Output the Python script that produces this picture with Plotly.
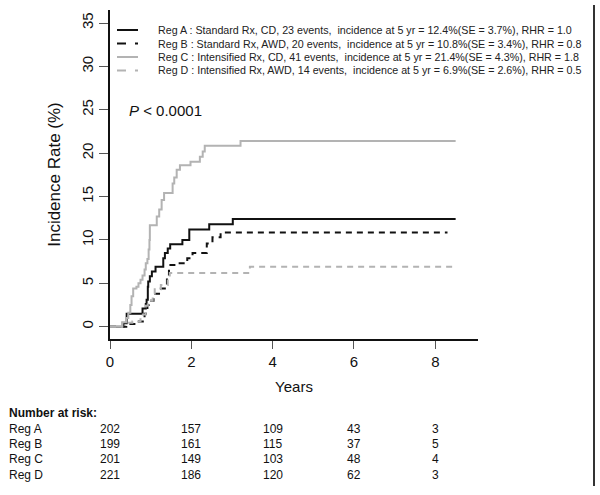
import plotly.graph_objects as go

# ---- data ----
reg_a_t = [0, 0.33, 0.41, 0.80, 0.88, 0.90, 0.93, 0.94, 0.98, 1.03, 1.12, 1.31, 1.35, 1.42, 1.48, 1.78, 1.95, 2.44, 3.02, 8.5]
reg_a_v = [0, 0.4, 1.5, 2.1, 2.6, 3.1, 4.6, 5.2, 5.8, 6.35, 6.9, 7.9, 8.5, 9.0, 9.5, 10.0, 11.2, 11.8, 12.4, 12.4]

reg_b_t = [0, 0.40, 0.60, 0.85, 0.92, 0.95, 1.07, 1.25, 1.40, 1.45, 1.62, 1.90, 2.03, 2.38, 2.52, 2.72, 8.3]
reg_b_v = [0, 0.3, 0.6, 1.5, 2.5, 3.0, 3.8, 4.4, 6.0, 7.1, 7.3, 7.9, 8.5, 9.6, 10.3, 10.85, 10.85]

reg_c_t = [0, 0.30, 0.40, 0.45, 0.50, 0.53, 0.57, 0.65, 0.70, 0.75, 0.80, 0.85, 0.88, 0.92, 0.95, 0.97, 0.98,
           1.15, 1.21, 1.27, 1.33, 1.54, 1.58, 1.64, 1.72, 1.98, 2.21, 2.28, 2.33, 3.21, 8.5]
reg_c_v = [0, 0.5, 1.0, 1.6, 2.5, 3.5, 4.4, 4.6, 5.0, 5.4, 5.9, 6.6, 7.3, 7.8, 8.9, 10.0, 11.7,
           12.7, 13.5, 14.6, 15.4, 16.5, 17.2, 18.1, 18.6, 19.0, 19.6, 20.2, 20.85, 21.4, 21.4]

reg_d_t = [0, 0.30, 0.55, 0.75, 0.88, 0.93, 1.05, 1.10, 1.25, 1.42, 1.47, 3.44, 8.49]
reg_d_v = [0, 0.45, 0.6, 1.4, 2.4, 3.0, 3.8, 4.3, 4.8, 5.5, 6.2, 6.9, 6.9]

legend_labels = [
    "Reg A : Standard Rx, CD, 23 events,  incidence at 5 yr = 12.4%(SE = 3.7%), RHR = 1.0",
    "Reg B : Standard Rx, AWD, 20 events,  incidence at 5 yr = 10.8%(SE = 3.4%), RHR = 0.8",
    "Reg C : Intensified Rx, CD, 41 events,  incidence at 5 yr = 21.4%(SE = 4.3%), RHR = 1.8",
    "Reg D : Intensified Rx, AWD, 14 events,  incidence at 5 yr = 6.9%(SE = 2.6%), RHR = 0.5",
]
risk_names = ["Reg A", "Reg B", "Reg C", "Reg D"]
risk_times = [0, 2, 4, 6, 8]
risk_a = [202, 157, 109, 43, 3]
risk_b = [199, 161, 115, 37, 5]
risk_c = [201, 149, 103, 48, 4]
risk_d = [221, 186, 120, 62, 3]
x_ticks = [0, 2, 4, 6, 8]
y_ticks = [0, 5, 10, 15, 20, 25, 30, 35]

# ---- styles ----
BLACK = "#111111"
GRAY = "#b3b3b3"
styles = [
    dict(color=BLACK, dash="solid"),
    dict(color=BLACK, dash="6px,5px"),
    dict(color=GRAY, dash="solid"),
    dict(color=GRAY, dash="6px,5px"),
]
series = [(reg_a_t, reg_a_v), (reg_b_t, reg_b_v), (reg_c_t, reg_c_v), (reg_d_t, reg_d_v)]

fig = go.Figure()
for (t, v), st, name in zip(series, styles, risk_names):
    fig.add_trace(go.Scatter(x=t, y=v, mode="lines", line_shape="hv", name=name,
                             line=dict(color=st["color"], dash=st["dash"], width=2),
                             showlegend=False, hoverinfo="skip"))

FONT = "Liberation Sans, Arial, sans-serif"

# geometry (pixels)
L, R, T, B = 110, 478, 10, 339
W, H = 600, 495
pw, ph = R - L, B - T


def px_x(p):
    return (p - L) / pw


def px_y(p):
    return (B - p) / ph


shapes = []
annotations = []

# legend
leg_rows = [30, 43.5, 57, 70.5]
for lab, st, yp in zip(legend_labels, styles, leg_rows):
    shapes.append(dict(type="line", xref="paper", yref="paper",
                       x0=px_x(117), x1=px_x(138), y0=px_y(yp), y1=px_y(yp),
                       line=dict(color=st["color"], width=2,
                                 dash="dash" if st["dash"] != "solid" else "solid")))
    annotations.append(dict(xref="paper", yref="paper", x=px_x(156), y=px_y(yp),
                            text=lab, showarrow=False, xanchor="left", yanchor="middle",
                            font=dict(family=FONT, size=10.7, color="#222")))

# P value
annotations.append(dict(xref="paper", yref="paper", x=px_x(127), y=px_y(110),
                        text="<i>P</i> &lt; 0.0001", showarrow=False,
                        xanchor="left", yanchor="middle",
                        font=dict(family=FONT, size=15, color="#111")))

# Number at risk table
annotations.append(dict(xref="paper", yref="paper", x=px_x(7), y=px_y(413),
                        text="<b>Number at risk:</b>", showarrow=False,
                        xanchor="left", yanchor="middle",
                        font=dict(family=FONT, size=12, color="#111")))
row_y = [428.5, 444, 459.5, 475]
for name, vals, yp in zip(risk_names, [risk_a, risk_b, risk_c, risk_d], row_y):
    annotations.append(dict(xref="paper", yref="paper", x=px_x(7), y=px_y(yp),
                            text=name, showarrow=False, xanchor="left", yanchor="middle",
                            font=dict(family=FONT, size=12, color="#111")))
    for tt, n in zip(risk_times, vals):
        annotations.append(dict(xref="x", yref="paper", x=tt, y=px_y(yp),
                                text=str(n), showarrow=False, xanchor="center",
                                yanchor="middle",
                                font=dict(family=FONT, size=12, color="#111")))

# right page border
shapes.append(dict(type="line", xref="paper", yref="paper",
                   x0=px_x(594), x1=px_x(594), y0=px_y(5), y1=px_y(486),
                   line=dict(color="#333", width=2)))

fig.update_layout(
    width=W, height=H,
    margin=dict(l=L, r=W - R, t=T, b=H - B),
    plot_bgcolor="white", paper_bgcolor="white",
    shapes=shapes, annotations=annotations,
    font=dict(family=FONT, color="#111"),
    xaxis=dict(range=[0, 9.05], tickvals=x_ticks, ticktext=[str(v) for v in x_ticks],
               showline=True, linecolor="#111", linewidth=2, showgrid=False, zeroline=False,
               ticks="outside", ticklen=8, tickcolor="#555", tickwidth=1,
               tickfont=dict(family=FONT, size=15),
               title=dict(text="Years", font=dict(family=FONT, size=15), standoff=12)),
    yaxis=dict(range=[-1.42, 36.5], tickvals=y_ticks, ticktext=[str(v) for v in y_ticks],
               showline=True, linecolor="#111", linewidth=2, showgrid=False, zeroline=False,
               ticks="outside", ticklen=9, tickcolor="#555", tickwidth=1,
               tickangle=-90, tickfont=dict(family=FONT, size=15),
               title=dict(text="Incidence Rate (%)", font=dict(family=FONT, size=17), standoff=14)),
)

fig.write_html("out.html", config={"displayModeBar": False},
               post_script="document.body.style.margin='0';document.body.style.padding='0';")
